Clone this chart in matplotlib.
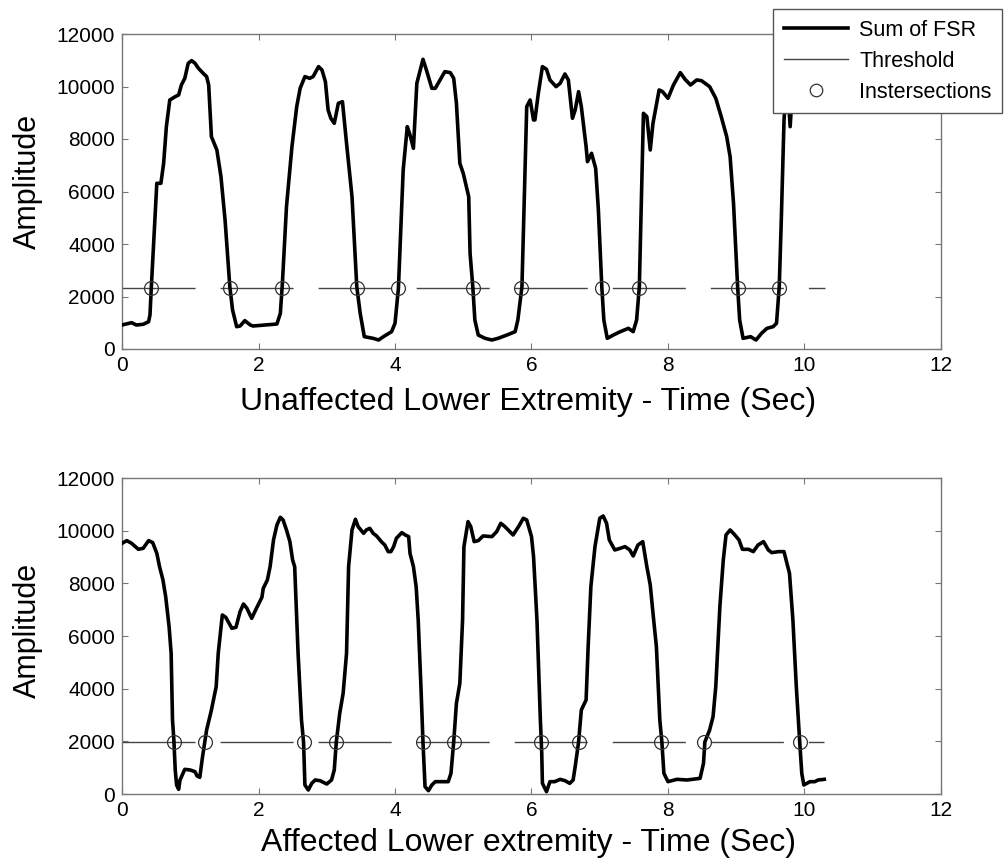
import matplotlib
matplotlib.use("Agg")
import matplotlib.pyplot as plt
from matplotlib.lines import Line2D

plt.rcParams['font.family'] = ['Liberation Sans', 'DejaVu Sans']

# --- data ---
top_t = [0.00, 0.14, 0.21, 0.31, 0.39, 0.41, 0.43, 0.51, 0.57, 0.61, 0.65, 0.70, 0.78, 0.83,
         0.87, 0.92, 0.97, 1.02, 1.07, 1.12, 1.19, 1.24, 1.27, 1.31, 1.39, 1.45, 1.51, 1.58,
         1.62, 1.68, 1.73, 1.80, 1.88, 1.92, 2.27, 2.32, 2.35, 2.41, 2.49, 2.56, 2.61, 2.68,
         2.75, 2.80, 2.88, 2.93, 2.98, 3.02, 3.06, 3.11, 3.17, 3.23, 3.29, 3.37, 3.44, 3.49,
         3.55, 3.68, 3.76, 3.83, 3.95, 4.00, 4.05, 4.12, 4.18, 4.22, 4.27, 4.32, 4.41, 4.46,
         4.54, 4.59, 4.66, 4.73, 4.81, 4.86, 4.90, 4.95, 5.00, 5.08, 5.10, 5.14, 5.17, 5.22,
         5.32, 5.42, 5.51, 5.64, 5.76, 5.80, 5.86, 5.93, 5.98, 6.03, 6.05, 6.10, 6.16, 6.22,
         6.27, 6.36, 6.42, 6.49, 6.54, 6.60, 6.64, 6.69, 6.73, 6.80, 6.82, 6.88, 6.94, 6.98,
         7.03, 7.06, 7.11, 7.20, 7.30, 7.42, 7.49, 7.54, 7.58, 7.64, 7.69, 7.74, 7.78, 7.87,
         7.92, 8.00, 8.08, 8.18, 8.25, 8.33, 8.42, 8.49, 8.61, 8.70, 8.78, 8.86, 8.91, 8.96,
         9.02, 9.05, 9.10, 9.21, 9.29, 9.37, 9.45, 9.54, 9.59, 9.63, 9.66, 9.70, 9.73, 9.76,
         9.79, 9.82, 9.90, 10.05, 10.18, 10.30]
top_amp = [914, 1003, 914, 940, 1041, 1300, 2375, 6312, 6312, 7074, 8471, 9487, 9614, 9677,
           10058, 10312, 10884, 10986, 10884, 10693, 10503, 10376, 10058, 8090, 7582, 6566, 4915, 2375,
           1486, 851, 876, 1080, 914, 876, 952, 1359, 2502, 5423, 7709, 9233, 9931, 10376,
           10312, 10376, 10757, 10630, 10185, 9106, 8788, 8598, 9360, 9423, 7836, 5804, 2375, 1359,
           470, 406, 343, 470, 660, 978, 2311, 6820, 8471, 8153, 7645, 10122, 11036, 10630,
           9931, 9931, 10249, 10566, 10528, 10312, 9360, 7074, 6693, 5804, 3645, 2375, 1105, 533,
           406, 343, 406, 533, 660, 1105, 2375, 9233, 9487, 8725, 8725, 9741, 10757, 10655,
           10249, 9995, 10122, 10478, 10249, 8788, 9106, 9804, 9233, 7709, 7137, 7455, 6883, 5296,
           2375, 1105, 406, 533, 660, 787, 660, 1105, 2375, 8979, 8852, 7582, 8598, 9868,
           9804, 9550, 10058, 10528, 10274, 10058, 10249, 10224, 9995, 9550, 8852, 8090, 7328, 5550,
           2375, 1105, 406, 470, 343, 597, 787, 851, 978, 2375, 4915, 8725, 9995, 9700,
           8470, 9800, 10100, 10300, 10100, 9900]

bottom_t = [0.00, 0.07, 0.14, 0.24, 0.31, 0.39, 0.45, 0.51, 0.55, 0.60, 0.64, 0.69, 0.72, 0.74,
            0.76, 0.78, 0.80, 0.83, 0.85, 0.92, 1.00, 1.07, 1.10, 1.14, 1.18, 1.24, 1.31, 1.38,
            1.41, 1.47, 1.52, 1.61, 1.67, 1.73, 1.78, 1.83, 1.90, 1.97, 2.05, 2.07, 2.13, 2.17,
            2.22, 2.27, 2.32, 2.36, 2.41, 2.46, 2.50, 2.53, 2.58, 2.63, 2.66, 2.68, 2.73, 2.78,
            2.83, 2.90, 3.00, 3.07, 3.11, 3.14, 3.19, 3.24, 3.29, 3.32, 3.37, 3.42, 3.46, 3.54,
            3.58, 3.63, 3.68, 3.73, 3.80, 3.85, 3.90, 3.94, 3.98, 4.02, 4.10, 4.15, 4.20, 4.22,
            4.27, 4.31, 4.34, 4.38, 4.41, 4.44, 4.49, 4.54, 4.59, 4.78, 4.82, 4.86, 4.90, 4.95,
            4.99, 5.01, 5.07, 5.11, 5.16, 5.22, 5.29, 5.42, 5.49, 5.55, 5.61, 5.73, 5.81, 5.88,
            5.93, 6.00, 6.03, 6.08, 6.13, 6.15, 6.16, 6.22, 6.27, 6.34, 6.42, 6.49, 6.56, 6.61,
            6.64, 6.69, 6.73, 6.80, 6.83, 6.87, 6.93, 7.00, 7.05, 7.10, 7.14, 7.22, 7.30, 7.37,
            7.44, 7.49, 7.56, 7.63, 7.69, 7.74, 7.79, 7.83, 7.88, 7.91, 7.94, 8.00, 8.13, 8.28,
            8.47, 8.52, 8.54, 8.61, 8.66, 8.70, 8.76, 8.81, 8.85, 8.91, 8.98, 9.04, 9.09, 9.18,
            9.25, 9.32, 9.40, 9.47, 9.52, 9.62, 9.70, 9.73, 9.78, 9.83, 9.88, 9.93, 9.96, 9.99,
            10.08, 10.15, 10.20, 10.29]
bottom_amp = [9520, 9622, 9520, 9292, 9330, 9622, 9546, 9140, 8634, 8128, 7495, 6355, 5343, 2811,
              2051, 911, 342, 177, 532, 937, 911, 848, 684, 633, 1418, 2431, 3190, 4076,
              5343, 6798, 6710, 6292, 6330, 6925, 7216, 7052, 6672, 7052, 7469, 7811, 8128, 8634,
              9647, 10217, 10508, 10406, 10027, 9583, 8887, 8634, 5343, 2811, 1975, 342, 152, 405,
              532, 506, 380, 532, 911, 1975, 3064, 3823, 5343, 8634, 10027, 10432, 10154, 9900,
              10027, 10090, 9900, 9799, 9583, 9457, 9204, 9204, 9394, 9710, 9925, 9837, 9774, 9140,
              8634, 7875, 6608, 4076, 1975, 279, 127, 342, 468, 468, 785, 1975, 3443, 4203,
              6608, 9394, 10343, 10154, 9583, 9622, 9799, 9774, 9964, 10280, 10154, 9837, 10154, 10470,
              10406, 9774, 9014, 6608, 2811, 1545, 405, 89, 468, 468, 557, 506, 405, 532,
              1038, 1975, 3190, 3570, 5596, 7875, 9394, 10470, 10558, 10280, 9647, 9267, 9330, 9394,
              9267, 9039, 9457, 9583, 8634, 7938, 6608, 5596, 2811, 1975, 785, 468, 557, 532,
              595, 1165, 1975, 2431, 2937, 4076, 7115, 8887, 9837, 10027, 9837, 9647, 9292, 9292,
              9204, 9457, 9583, 9267, 9166, 9204, 9204, 8887, 8381, 6608, 4076, 1975, 785, 342,
              468, 468, 532, 557]

top_threshold = 2330
bottom_threshold = 1960
top_cross = [0.42, 1.58, 2.35, 3.44, 4.05, 5.14, 5.85, 7.03, 7.58, 9.02, 9.63]
bottom_cross = [0.76, 1.21, 2.66, 3.14, 4.41, 4.86, 6.14, 6.69, 7.90, 8.53, 9.93]

x_ticks = [0, 2, 4, 6, 8, 10, 12]
y_ticks = [0, 2000, 4000, 6000, 8000, 10000, 12000]

GRAY = '#777777'
THR_COLOR = '#444444'

fig = plt.figure(figsize=(10.07, 8.67), dpi=100)
ax1 = fig.add_axes([122 / 1007, 1 - 349 / 867, 819 / 1007, 315 / 867])
ax2 = fig.add_axes([122 / 1007, 1 - 794 / 867, 819 / 1007, 316 / 867])


def draw_panel(ax, t, amp, thr, cross, xlabel, ylab_y, xlab_y):
    ax.plot(t, amp, color='black', lw=2.6, solid_joinstyle='round', zorder=3)
    ax.plot([t[0], t[-1]], [thr, thr], color=THR_COLOR, lw=1.0,
            dashes=(52.6, 18), zorder=2)
    ax.plot(cross, [thr] * len(cross), linestyle='none', marker='o', ms=10,
            mfc='none', mec='#333333', mew=0.9, zorder=4)
    ax.set_xlim(0, 12)
    ax.set_ylim(0, 12000)
    ax.set_xticks(x_ticks)
    ax.set_yticks(y_ticks)
    ax.tick_params(direction='in', length=4, width=0.8, color=GRAY,
                   top=True, right=True, labelsize=15, pad=5)
    for s in ax.spines.values():
        s.set_color(GRAY)
        s.set_linewidth(1.0)
    ax.set_ylabel('Amplitude', fontsize=22)
    ax.yaxis.set_label_coords(-0.097, ylab_y)
    ax.set_xlabel(xlabel, fontsize=23)
    ax.xaxis.set_label_coords(0.496, xlab_y)


draw_panel(ax1, top_t, top_amp, top_threshold, top_cross,
           'Unaffected Lower Extremity - Time (Sec)', 0.533, -0.122)
draw_panel(ax2, bottom_t, bottom_amp, bottom_threshold, bottom_cross,
           'Affected Lower extremity - Time (Sec)', 0.519, -0.108)

handles = [
    Line2D([], [], color='black', lw=2.6),
    Line2D([], [], color=THR_COLOR, lw=1.0),
    Line2D([], [], linestyle='none', marker='o', ms=9, mfc='none', mec='#333333', mew=0.9),
]
leg = ax1.legend(handles, ['Sum of FSR', 'Threshold', 'Instersections'],
                 loc='upper left', bbox_to_anchor=(773 / 1007, 1 - 9 / 867),
                 bbox_transform=fig.transFigure, fontsize=15.5, fancybox=False,
                 framealpha=1, edgecolor='#555555', borderpad=0.5, borderaxespad=0,
                 handlelength=3.0, handletextpad=0.5, labelspacing=0.46)
leg.get_frame().set_linewidth(1.0)

fig.savefig('out.png', dpi=100)
